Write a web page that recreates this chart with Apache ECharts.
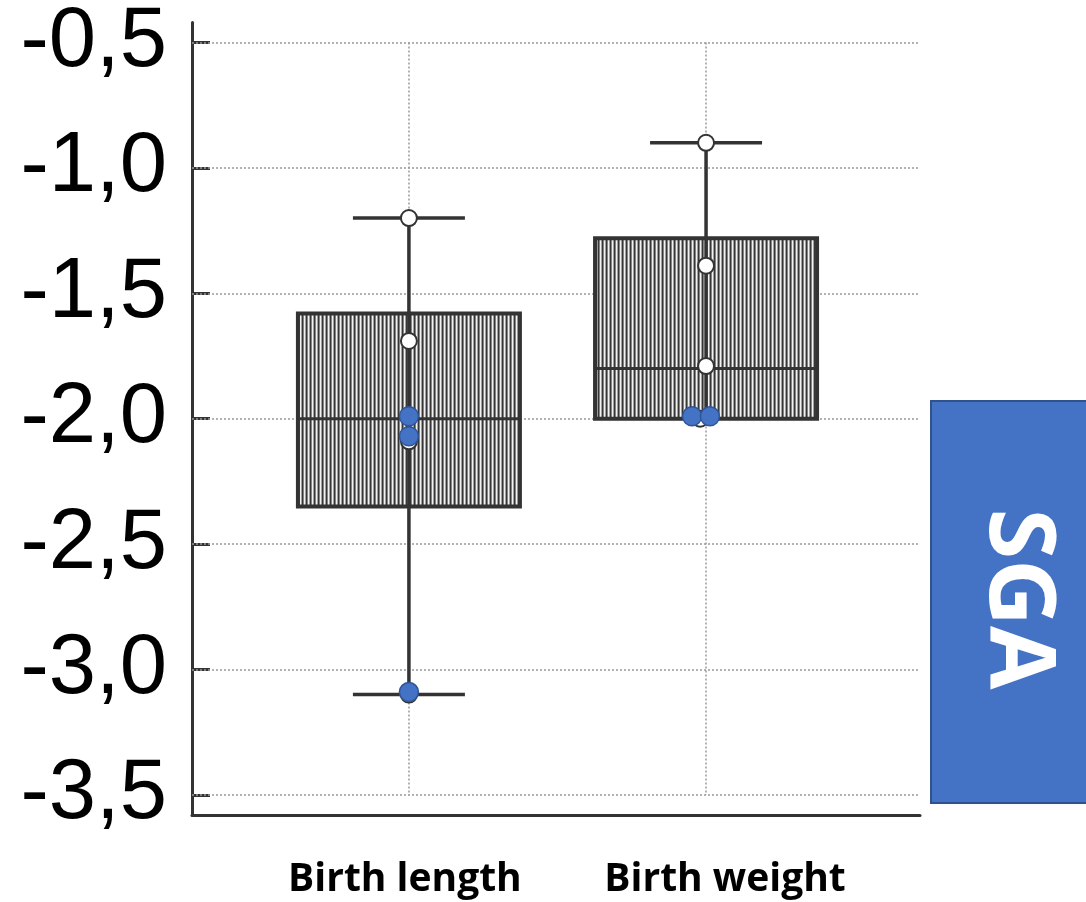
<!DOCTYPE html>
<html>
<head>
<meta charset="utf-8">
<script src="https://cdn.jsdelivr.net/npm/echarts@6/dist/echarts.min.js"></script>
<style>html,body{margin:0;padding:0;background:#fff}#c{width:1086px;height:902px}</style>
</head>
<body>
<div id="c"></div>
<script>
// ---- data ----
var categories = ['Birth length', 'Birth weight'];
var categoryPos = [1, 2];
// [position, low, q1, median, q3, high]
var boxLength = [1, -3.10, -2.35, -2.00, -1.58, -1.20];
var boxWeight = [2, -2.00, -2.00, -1.80, -1.28, -0.90];
var whitePoints = [[1, -1.20], [1, -1.69], [1, -2.09], [1, -3.10], [2, -0.90], [2, -1.39], [2, -1.79], [1.98, -2.00]];
var bluePoints = [[1, -1.99], [1, -2.07], [1, -3.09], [1.953, -1.99], [2.013, -1.99]];
var yTicks = [-3.5, -3.0, -2.5, -2.0, -1.5, -1.0, -0.5];
var groupLabel = 'SGA';

// hatch pattern
var pc = document.createElement('canvas');
pc.width = 4; pc.height = 4;
var pctx = pc.getContext('2d');
var stripeCols = ['#f2f2f2', '#a0a0a0', '#363636', '#848484'];
for (var i = 0; i < 4; i++) { pctx.fillStyle = stripeCols[i]; pctx.fillRect(i, 0, 1, 4); }
var hatch = { image: pc, repeat: 'repeat' };

var chart = echarts.init(document.getElementById('c'));

function renderBox(params, api) {
  var x = api.value(0);
  var low = api.coord([x, api.value(1)]);
  var q1 = api.coord([x, api.value(2)]);
  var med = api.coord([x, api.value(3)]);
  var q3 = api.coord([x, api.value(4)]);
  var high = api.coord([x, api.value(5)]);
  var cx = low[0];
  var bh = 111, ch = 56;
  var line = { stroke: '#333', lineWidth: 3.5 };
  var children = [];
  children.push({ type: 'line', shape: { x1: cx - ch, y1: high[1], x2: cx + ch, y2: high[1] }, style: line });
  if (Math.abs(low[1] - q1[1]) > 1) {
    children.push({ type: 'line', shape: { x1: cx - ch, y1: low[1], x2: cx + ch, y2: low[1] }, style: line });
  }
  children.push({ type: 'rect', shape: { x: cx - bh, y: q3[1], width: 2 * bh, height: q1[1] - q3[1] },
    style: { fill: hatch, stroke: '#333', lineWidth: 4 } });
  children.push({ type: 'line', shape: { x1: cx, y1: high[1], x2: cx, y2: low[1] }, style: line });
  children.push({ type: 'line', shape: { x1: cx - bh, y1: med[1], x2: cx + bh, y2: med[1] }, style: { stroke: '#333', lineWidth: 3 } });
  return { type: 'group', children: children };
}

var gridLineStyle = { color: '#999', type: [2, 2], width: 1.5 };

chart.setOption({
  animation: false,
  grid: { left: 192, right: 166, top: 20, bottom: 87 },
  xAxis: {
    type: 'value', min: 0.27, max: 2.72,
    axisLine: { show: true, lineStyle: { color: '#333', width: 3 } },
    axisTick: { show: false },
    splitLine: { show: false },
    axisLabel: {
      customValues: categoryPos,
      margin: 45,
      formatter: function (v) { var i = categoryPos.indexOf(v); return i === 1 ? '{b|' + categories[i] + '}' : '{a|' + categories[i] + '}'; },
      rich: {
        a: { fontFamily: 'Open Sans', fontWeight: 'bold', fontSize: 39, color: '#000', padding: [0, 8, 0, 0] },
        b: { fontFamily: 'Open Sans', fontWeight: 'bold', fontSize: 39, color: '#000', padding: [0, 0, 0, 38] }
      }
    }
  },
  yAxis: {
    type: 'value', min: -3.58, max: -0.42,
    axisLine: { show: true, lineStyle: { color: '#333', width: 3 } },
    axisTick: { show: true, inside: true, length: 18, customValues: yTicks, lineStyle: { color: '#333', width: 3 } },
    splitLine: { show: false },
    axisLabel: {
      customValues: yTicks, margin: 25,
      fontFamily: 'Liberation Sans', fontSize: 85, color: '#000',
      formatter: function (v) { return v.toFixed(1).replace('.', ','); }
    }
  },
  series: [
    {
      type: 'line', data: [], silent: true, z: 1, zlevel: 0,
      markLine: {
        silent: true, symbol: 'none', label: { show: false }, lineStyle: gridLineStyle, animation: false, z: 1,
        data: yTicks.map(function (t) { return { yAxis: t }; }).concat(
          categoryPos.map(function (p) { return [{ coord: [p, yTicks[yTicks.length - 1]] }, { coord: [p, yTicks[0]] }]; }))
      }
    },
    {
      type: 'custom', renderItem: renderBox, data: [boxLength, boxWeight], z: 3,
      encode: { x: 0, y: [1, 2, 3, 4, 5] }
    },
    {
      type: 'scatter', data: whitePoints, symbolSize: 16, z: 4,
      itemStyle: { color: '#fff', borderColor: '#333', borderWidth: 2, opacity: 1 }
    },
    {
      type: 'scatter', data: bluePoints, symbolSize: 19, z: 5,
      itemStyle: { color: '#4472C4', borderColor: '#2F5597', borderWidth: 1.5, opacity: 1 }
    }
  ],
  graphic: [
    { type: 'rect', left: 930, top: 400, shape: { width: 160, height: 402 },
      style: { fill: '#4472C4', stroke: '#2F528F', lineWidth: 2 } },
    { type: 'text', x: 1016, y: 599, rotation: -Math.PI / 2,
      style: { text: groupLabel, fill: '#fff', font: 'bold 92px "Open Sans"', align: 'center', verticalAlign: 'middle' } }
  ]
});
</script>
</body>
</html>
